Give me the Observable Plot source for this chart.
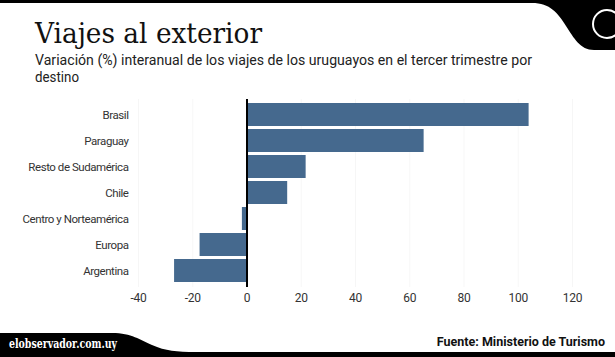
<!DOCTYPE html>
<html>
<head>
<meta charset="utf-8">
<script src="https://cdn.jsdelivr.net/npm/d3@7"></script>
<script src="https://cdn.jsdelivr.net/npm/@observablehq/plot@0.6"></script>
<style>
  html, body { margin: 0; padding: 0; background: #fff; }
  #wrap { position: relative; width: 615px; height: 357px; overflow: hidden; background: #fff; }
  #chart { position: absolute; left: 0; top: 0; }
  #deco { position: absolute; left: 0; top: 0; pointer-events: none; }
  #chart g[aria-label="y-axis tick label"] { font-size: 11.5px; }
  #chart g[aria-label="y-axis tick label"] text { letter-spacing: -0.45px; }
  #chart g[aria-label="x-axis tick label"] { font-size: 12px; }
  #chart g[aria-label="x-axis tick label"] text { letter-spacing: -0.3px; }
</style>
</head>
<body>
<div id="wrap">
  <div id="chart"></div>
  <svg id="deco" width="615" height="357" xmlns="http://www.w3.org/2000/svg">
    <!-- header -->
    <rect x="0" y="0" width="615" height="3" fill="#000"/>
    <path d="M528,0 L615,0 L615,50 L594,50 C580,50 574,38 566,26 C558,13 550,3 532,3 L528,3 Z" fill="#000"/>
    <circle cx="607" cy="24" r="14" fill="none" stroke="#fff" stroke-width="2"/>
    <text x="35" y="43" font-family="'DejaVu Serif'" font-size="28" fill="#111" textLength="227" lengthAdjust="spacingAndGlyphs">Viajes al exterior</text>
    <text x="35" y="65" font-family="Roboto" font-size="15" fill="#222" textLength="497" lengthAdjust="spacingAndGlyphs">Variación (%) interanual de los viajes de los uruguayos en el tercer trimestre por</text>
    <text x="35" y="82" font-family="Roboto" font-size="15" fill="#222" textLength="44" lengthAdjust="spacingAndGlyphs">destino</text>
    <!-- footer -->
    <path d="M0,357 L0,333 L112,333 C132,333 140,340 152,345 C166,351 176,352 196,352 L615,352 L615,357 Z" fill="#000"/>
    <text x="9" y="348" font-family="'DejaVu Serif'" font-weight="bold" font-size="13" fill="#fff" textLength="108" lengthAdjust="spacingAndGlyphs">elobservador.com.uy</text>
    <text x="605" y="346" text-anchor="end" font-family="Roboto" font-weight="bold" font-size="12.5" fill="#111">Fuente: Ministerio de Turismo</text>
  </svg>
</div>
<script>
const categories = ["Brasil", "Paraguay", "Resto de Sudamérica", "Chile", "Centro y Norteamérica", "Europa", "Argentina"];
const values = [104, 65.3, 21.8, 15, -1.7, -17.3, -26.7];
const xTicks = [-40, -20, 0, 20, 40, 60, 80, 100, 120];

const data = categories.map((c, i) => ({destino: c, valor: values[i]}));

const chart = Plot.plot({
  width: 615,
  height: 310,
  marginLeft: 138,
  marginRight: 43,
  marginTop: 99,
  marginBottom: 23,
  style: {fontFamily: "Roboto", fontSize: "11px", color: "#333", background: "transparent"},
  x: {domain: [-40, 120], ticks: xTicks, tickFormat: d => String(d), tickSize: 0, tickPadding: 6, label: null},
  y: {domain: categories, padding: 0.1, tickSize: 0, tickPadding: 10, label: null},
  marks: [
    Plot.gridX(xTicks, {stroke: "#000", strokeOpacity: 0.035}),
    Plot.barX(data, {x: "valor", y: "destino", fill: "#45698e"}),
    Plot.ruleX([0], {stroke: "#000", strokeWidth: 2})
  ]
});
document.getElementById("chart").appendChild(chart);
</script>
</body>
</html>
